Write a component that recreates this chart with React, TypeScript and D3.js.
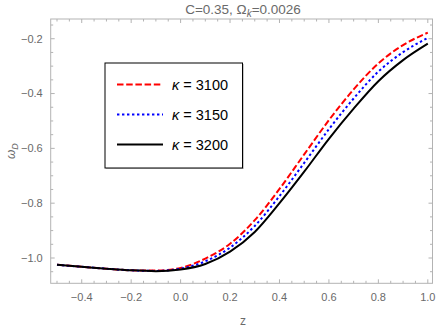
import * as d3 from 'd3'

// z grid
const zValues = [-0.5, -0.4, -0.3, -0.2, -0.1, 0, 0.1, 0.2, 0.3, 0.4, 0.5, 0.6, 0.7, 0.8, 0.9, 1.0]

const kappa3100 = [-1.025, -1.032, -1.039, -1.045, -1.046, -1.036, -1.002, -0.948, -0.862, -0.748, -0.622, -0.497, -0.385, -0.29, -0.223, -0.178]
const kappa3150 = [-1.025, -1.032, -1.039, -1.045, -1.047, -1.039, -1.012, -0.962, -0.883, -0.774, -0.653, -0.53, -0.418, -0.32, -0.249, -0.197]
const kappa3200 = [-1.025, -1.032, -1.039, -1.045, -1.048, -1.042, -1.022, -0.977, -0.905, -0.8, -0.685, -0.565, -0.455, -0.355, -0.278, -0.218]

const seriesLabels = ['3100', '3150', '3200']
const xTicks = [-0.4, -0.2, 0.0, 0.2, 0.4, 0.6, 0.8, 1.0]
const yTicks = [-0.2, -0.4, -0.6, -0.8, -1.0]

const W = 436
const H = 327
const margin = { top: 19, right: 3.5, bottom: 43.7, left: 50.7 }
const FONT = '"Liberation Sans", Arial, sans-serif'
const frameColor = '#b3b3b3'
const labelColor = '#6a6a6a'

const styles = [
  { color: '#ff0000', dash: '6.5,2.7' },
  { color: '#0000ff', dash: '2.4,2.6' },
  { color: '#000000', dash: null },
]

const fmt = (v: number) => v.toFixed(1).replace('-', '\u2212')

export default function App() {
  const innerW = W - margin.left - margin.right
  const innerH = H - margin.top - margin.bottom

  const x = d3.scaleLinear().domain([-0.5255, 1.019]).range([0, innerW])
  const y = d3.scaleLinear().domain([-1.0923, -0.128]).range([innerH, 0])

  const series = [kappa3100, kappa3150, kappa3200]
  const line = d3.line<number>()
    .x((_, i) => x(zValues[i]))
    .y((d) => y(d))
    .curve(d3.curveMonotoneX)

  const xMinor = d3.range(-0.5, 1.0001, 0.05).map((v) => +v.toFixed(2))
  const yMinor = d3.range(-1.05, -0.1499, 0.05).map((v) => +v.toFixed(2))
  const isMajor = (v: number) => Math.abs(Math.round(v * 5) - v * 5) < 1e-6

  return (
    <svg width={W} height={H} style={{ position: 'fixed', left: 0, top: 0, background: '#fff' }} fontFamily={FONT}>
      <text x={243} y={14} textAnchor="middle" fontSize={13.5} fill={labelColor}>
        C=0.35, Ω<tspan fontStyle="italic" fontSize={10} dy={3}>k</tspan><tspan dy={-3}>=0.0026</tspan>
      </text>

      <g transform={`translate(${margin.left},${margin.top})`}>
        <g clipPath="url(#plotclip)">
          {series.map((s, i) => (
            <path key={i} d={line(s) ?? ''} fill="none" stroke={styles[i].color} strokeWidth={2}
              strokeDasharray={styles[i].dash ?? undefined} />
          ))}
        </g>
        <clipPath id="plotclip"><rect width={innerW} height={innerH} /></clipPath>

        <rect width={innerW} height={innerH} fill="none" stroke={frameColor} strokeWidth={1} />

        {xMinor.map((v) => {
          const len = isMajor(v) ? 4 : 2.5
          return (
            <g key={'x' + v}>
              <line x1={x(v)} x2={x(v)} y1={innerH} y2={innerH - len} stroke={frameColor} />
              <line x1={x(v)} x2={x(v)} y1={0} y2={len} stroke={frameColor} />
            </g>
          )
        })}
        {yMinor.map((v) => {
          const len = isMajor(v) ? 4 : 2.5
          return (
            <g key={'y' + v}>
              <line x1={0} x2={len} y1={y(v)} y2={y(v)} stroke={frameColor} />
              <line x1={innerW} x2={innerW - len} y1={y(v)} y2={y(v)} stroke={frameColor} />
            </g>
          )
        })}

        {xTicks.map((v) => (
          <text key={'xl' + v} x={x(v)} y={innerH + 17.5} textAnchor="middle" fontSize={11} fill={labelColor}>
            {fmt(v)}
          </text>
        ))}
        {yTicks.map((v) => (
          <text key={'yl' + v} x={-8} y={y(v)} dy="0.35em" textAnchor="end" fontSize={11} fill={labelColor}>
            {fmt(v)}
          </text>
        ))}
      </g>

      <text x={243} y={325} textAnchor="middle" fontSize={12} fill={labelColor}>z</text>
      <text transform={`translate(15,${margin.top + innerH / 2}) rotate(-90)`} textAnchor="middle" fontSize={12} fill={labelColor}>
        <tspan fontStyle="italic">ω</tspan><tspan fontStyle="italic" fontSize={9} dy={3}>D</tspan>
      </text>

      <g>
        <rect x={106} y={64} width={138} height={105} fill="#c8c8c8" />
        <rect x={105} y={63} width={137.5} height={105} fill="#fff" stroke="#000" strokeWidth={1} />
        {seriesLabels.map((lab, i) => {
          const ly = 84.5 + i * 30
          return (
            <g key={lab}>
              <line x1={117} x2={163} y1={ly} y2={ly} stroke={styles[i].color} strokeWidth={2}
                strokeDasharray={styles[i].dash ?? undefined} />
              <text x={172} y={ly} dy="0.35em" fontSize={14.5} fill="#000">
                <tspan fontStyle="italic">κ</tspan> = {lab}
              </text>
            </g>
          )
        })}
      </g>
    </svg>
  )
}
